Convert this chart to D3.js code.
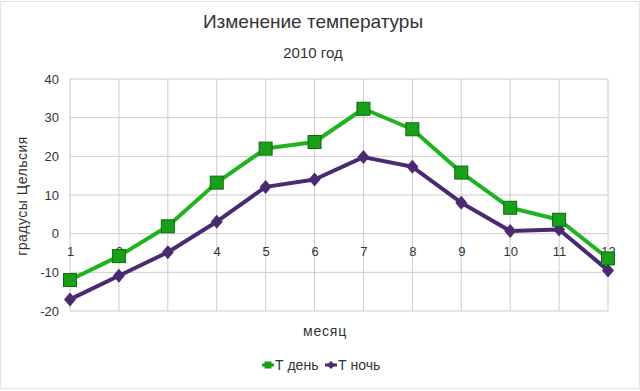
<html>
  <meta charset="utf-8" />
  <script src="https://d3js.org/d3.v7.min.js"></script>
  <style>
    body { margin: 0; background: #fff; }
    text { font-family: "Liberation Sans", Arial, sans-serif; fill: #333; }
    .grid line { stroke: #cccccc; stroke-width: 1; }
  </style>
  <body>
    <svg width="640" height="391" id="chart"></svg>
    <script>
      const months = [1, 2, 3, 4, 5, 6, 7, 8, 9, 10, 11, 12];
      const dayTemp = [-12, -5.8, 1.9, 13.2, 22, 23.7, 32.3, 27, 15.8, 6.7, 3.6, -6.4];
      const nightTemp = [-17, -10.9, -4.8, 3.1, 12.1, 14, 19.8, 17.3, 8, 0.7, 1.1, -9.5];
      const yTicks = [-20, -10, 0, 10, 20, 30, 40];
      const seriesNames = ["Т день", "Т ночь"];

      const svg = d3.select("#chart");

      // light frame round the picture
      svg.append("rect")
        .attr("x", 0.5).attr("y", 1.5)
        .attr("width", 639).attr("height", 387)
        .attr("fill", "none")
        .attr("stroke", "#e4e4e4");

      const x = d3.scaleLinear().domain([1, 12]).range([70, 608]);
      const y = d3.scaleLinear().domain([-20, 40]).range([311, 79]);

      // grid
      const grid = svg.append("g").attr("class", "grid");
      grid.selectAll(".h").data(yTicks).enter().append("line")
        .attr("x1", x(1)).attr("x2", x(12))
        .attr("y1", (d) => y(d)).attr("y2", (d) => y(d));
      grid.selectAll(".v").data(months).enter().append("line")
        .attr("x1", (d) => x(d)).attr("x2", (d) => x(d))
        .attr("y1", y(40)).attr("y2", y(-20));

      // y axis labels (plain hyphen minus like the original)
      const yAxis = svg.append("g")
        .attr("transform", `translate(${x(1)},0)`)
        .call(d3.axisLeft(y).tickValues(yTicks).tickFormat((d) => String(d)).tickSize(0).tickPadding(11));
      yAxis.select(".domain").remove();
      yAxis.selectAll("text")
        .style("font-size", "13px")
        .style("font-family", "Liberation Sans, Arial, sans-serif")
        .attr("fill", "#3a3a3a");

      // x axis labels at the 0 line
      const xAxis = svg.append("g")
        .attr("transform", `translate(0,${y(0)})`)
        .call(d3.axisBottom(x).tickValues(months).tickFormat((d) => String(d)).tickSize(0).tickPadding(13));
      xAxis.select(".domain").remove();
      xAxis.selectAll("text")
        .style("font-size", "13px")
        .style("font-family", "Liberation Sans, Arial, sans-serif")
        .attr("fill", "#3a3a3a");

      const line = d3.line()
        .x((d, i) => x(months[i]))
        .y((d) => y(d));

      // night series (purple diamonds)
      svg.append("path")
        .datum(nightTemp)
        .attr("d", line)
        .attr("fill", "none")
        .attr("stroke", "#4a2a70")
        .attr("stroke-width", 4)
        .attr("stroke-linejoin", "round");

      svg.selectAll(".night").data(nightTemp).enter().append("path")
        .attr("class", "night")
        .attr("transform", (d, i) => `translate(${x(months[i])},${y(d)})`)
        .attr("d", "M0,-7L6,0L0,7L-6,0Z")
        .attr("fill", "#4a2a70");

      // day series (green squares)
      svg.append("path")
        .datum(dayTemp)
        .attr("d", line)
        .attr("fill", "none")
        .attr("stroke", "#1fb41f")
        .attr("stroke-width", 4)
        .attr("stroke-linejoin", "round");

      svg.selectAll(".day").data(dayTemp).enter().append("rect")
        .attr("class", "day")
        .attr("x", (d, i) => x(months[i]) - 6.5)
        .attr("y", (d) => y(d) - 6.5)
        .attr("width", 13)
        .attr("height", 13)
        .attr("fill", "#18a018")
        .attr("stroke", "#0f6a0f")
        .attr("stroke-width", 1);

      // titles
      svg.append("text")
        .attr("x", 313).attr("y", 28)
        .attr("text-anchor", "middle")
        .style("font-size", "19px")
        .attr("fill", "#222")
        .text("Изменение температуры");

      svg.append("text")
        .attr("x", 313).attr("y", 58)
        .attr("text-anchor", "middle")
        .style("font-size", "15px")
        .attr("fill", "#222")
        .text("2010 год");

      svg.append("text")
        .attr("transform", "translate(27,196) rotate(-90)")
        .attr("text-anchor", "middle")
        .style("font-size", "14px")
        .style("letter-spacing", "0.5px")
        .text("градусы Цельсия");

      svg.append("text")
        .attr("x", 325).attr("y", 336)
        .attr("text-anchor", "middle")
        .style("font-size", "14px")
        .style("letter-spacing", "0.8px")
        .text("месяц");

      // legend
      const legendColors = ["#18a018", "#4a2a70"];
      const legendX = [262, 325];
      const legend = svg.selectAll(".legend").data(seriesNames).enter().append("g")
        .attr("transform", (d, i) => `translate(${legendX[i]},365)`);
      legend.append("line")
        .attr("x1", 0).attr("x2", 12)
        .attr("stroke", (d, i) => legendColors[i])
        .attr("stroke-width", 3);
      legend.filter((d, i) => i === 0).append("rect")
        .attr("x", 2.5).attr("y", -3.5).attr("width", 7).attr("height", 7)
        .attr("fill", "#18a018");
      legend.filter((d, i) => i === 1).append("path")
        .attr("d", "M6,-4L10,0L6,4L2,0Z")
        .attr("fill", "#4a2a70");
      legend.append("text")
        .attr("x", 13).attr("y", 5)
        .style("font-size", "14px")
        .text((d) => d);
    </script>
  </body>
</html>
